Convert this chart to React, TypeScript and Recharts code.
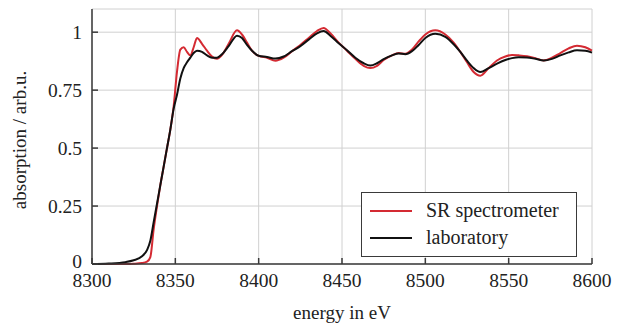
import {
  LineChart,
  Line,
  XAxis,
  YAxis,
  CartesianGrid,
  Label,
} from "recharts";

const energy = [
  8300, 8310, 8320, 8325, 8330, 8333, 8335, 8337, 8339, 8341, 8343, 8345, 8347, 8349, 8351, 8353,
  8355, 8357, 8359, 8361, 8363, 8366, 8369, 8372, 8375, 8378, 8382, 8387, 8390, 8393, 8396, 8400,
  8405, 8410, 8415, 8420, 8425, 8430, 8435, 8439, 8443, 8448, 8453, 8458, 8463, 8467, 8471, 8475,
  8480, 8484, 8488, 8492, 8496, 8500, 8506, 8512, 8517, 8521, 8525, 8529, 8533, 8538, 8543, 8548,
  8552, 8556, 8561, 8566, 8571, 8576, 8581, 8586, 8591, 8596, 8600,
];

const srSpectrometer = [
  0, 0, 0, 0.001, 0.004, 0.01, 0.03, 0.15, 0.25, 0.34, 0.42, 0.5, 0.58, 0.68, 0.83, 0.925,
  0.935, 0.915, 0.9, 0.935, 0.975, 0.95, 0.92, 0.895, 0.885, 0.902, 0.95, 1.008, 0.99, 0.955, 0.92, 0.898,
  0.89, 0.877, 0.89, 0.918, 0.945, 0.975, 1.005, 1.018, 0.995, 0.955, 0.92, 0.885, 0.855, 0.845, 0.855, 0.88,
  0.9, 0.91, 0.907, 0.925, 0.96, 0.99, 1.008, 0.99, 0.955, 0.915, 0.87, 0.828, 0.812, 0.845, 0.878, 0.895,
  0.902, 0.9, 0.896, 0.888, 0.878, 0.89, 0.91, 0.93, 0.942, 0.935, 0.92,
];

const laboratory = [
  0, 0.002, 0.008, 0.016, 0.033, 0.06, 0.1, 0.18, 0.26, 0.34, 0.42, 0.5, 0.58, 0.67, 0.73, 0.8,
  0.845, 0.87, 0.89, 0.91, 0.92, 0.915, 0.9, 0.89, 0.89, 0.905, 0.94, 0.985, 0.975, 0.945, 0.92, 0.898,
  0.893, 0.886, 0.895, 0.918, 0.94, 0.968, 0.995, 1.005, 0.985, 0.952, 0.922, 0.89, 0.866, 0.856, 0.866, 0.884,
  0.9, 0.908, 0.905, 0.918, 0.945, 0.975, 0.993, 0.98, 0.948, 0.915, 0.877, 0.845, 0.828, 0.845, 0.864, 0.88,
  0.888, 0.892, 0.891, 0.885, 0.878, 0.885, 0.9, 0.913, 0.922, 0.92, 0.912,
];

const xTicks = [8300, 8350, 8400, 8450, 8500, 8550, 8600];
const yTicks = [0, 0.25, 0.5, 0.75, 1];

const data = energy.map((e, i) => ({ energy: e, sr: srSpectrometer[i], lab: laboratory[i] }));

const FONT = "Liberation Serif";
const RED = "#d42a32";
const BLACK = "#111111";
const FRAME = "#3a3a3a";
const TEXT = "#222";

const legendItems = [
  { label: "SR spectrometer", color: RED },
  { label: "laboratory", color: BLACK },
];

function LegendBox() {
  return (
    <div
      style={{
        position: "absolute",
        left: 361,
        top: 192,
        width: 216,
        height: 65,
        border: `1.5px solid ${FRAME}`,
        background: "#fff",
        fontFamily: "'Liberation Serif', serif",
        fontSize: 20,
        color: TEXT,
        boxSizing: "border-box",
        paddingTop: 4,
      }}
    >
      {legendItems.map((it) => (
        <div key={it.label} style={{ display: "flex", alignItems: "center", height: 27 }}>
          <div style={{ width: 42, height: 2, background: it.color, marginLeft: 8, marginRight: 14 }} />
          <span>{it.label}</span>
        </div>
      ))}
    </div>
  );
}

function XTick(props: any) {
  const { x, y, payload } = props;
  return (
    <text x={x} y={y} dy="0.71em" textAnchor="middle" fontFamily={FONT} fontSize={19.5} fill={TEXT}>
      {payload.value}
    </text>
  );
}

function YTick(props: any) {
  const { x, y, payload } = props;
  return (
    <text
      x={x}
      y={payload.value === 0 ? y - 3 : y}
      dy="0.355em"
      textAnchor="end"
      fontFamily={FONT}
      fontSize={19.5}
      fill={TEXT}
    >
      {payload.value}
    </text>
  );
}

export default function App() {
  return (
    <div
      style={{
        position: "absolute",
        left: 0,
        top: 0,
        width: 623,
        height: 324,
        background: "#fff",
        fontFamily: FONT,
      }}
    >
      <LineChart
        width={623}
        height={324}
        data={data}
        margin={{ top: 9, right: 31, left: 0, bottom: 0 }}
      >
        <CartesianGrid stroke="#d0d0d0" strokeWidth={1} />
        <XAxis
          dataKey="energy"
          type="number"
          domain={[8300, 8600]}
          ticks={xTicks}
          height={60}
          tickSize={-6}
          tickMargin={15}
          stroke={FRAME}
          strokeWidth={1.5}
          tick={<XTick />}
        >
          <Label
            content={() => (
              <text x={342} y={319} textAnchor="middle" fontFamily={FONT} fontSize={19} fill={TEXT}>
                energy in eV
              </text>
            )}
          />
        </XAxis>
        <XAxis
          xAxisId="top"
          orientation="top"
          dataKey="energy"
          type="number"
          domain={[8300, 8600]}
          ticks={xTicks}
          height={0}
          tickSize={-6}
          stroke={FRAME}
          strokeWidth={1.5}
          tickFormatter={() => ""}
        />
        <YAxis
          type="number"
          domain={[0, 1.1]}
          ticks={yTicks}
          width={92}
          tickSize={-6}
          tickMargin={16}
          stroke={FRAME}
          strokeWidth={1.5}
          tick={<YTick />}
        >
          <Label
            content={() => (
              <text
                x={19}
                y={140}
                transform="rotate(-90 19 140)"
                textAnchor="middle"
                dominantBaseline="central"
                fontFamily={FONT}
                fontSize={19}
                fill={TEXT}
              >
                absorption / arb.u.
              </text>
            )}
          />
        </YAxis>
        <YAxis
          yAxisId="right"
          orientation="right"
          type="number"
          domain={[0, 1.1]}
          ticks={yTicks}
          width={0}
          tickSize={-6}
          stroke={FRAME}
          strokeWidth={1.5}
          tickFormatter={() => ""}
        />
        <Line
          type="monotone"
          dataKey="sr"
          name="SR spectrometer"
          stroke={RED}
          strokeWidth={2}
          dot={false}
          isAnimationActive={false}
        />
        <Line
          type="monotone"
          dataKey="lab"
          name="laboratory"
          stroke={BLACK}
          strokeWidth={2}
          dot={false}
          isAnimationActive={false}
        />
      </LineChart>
      <LegendBox />
    </div>
  );
}
